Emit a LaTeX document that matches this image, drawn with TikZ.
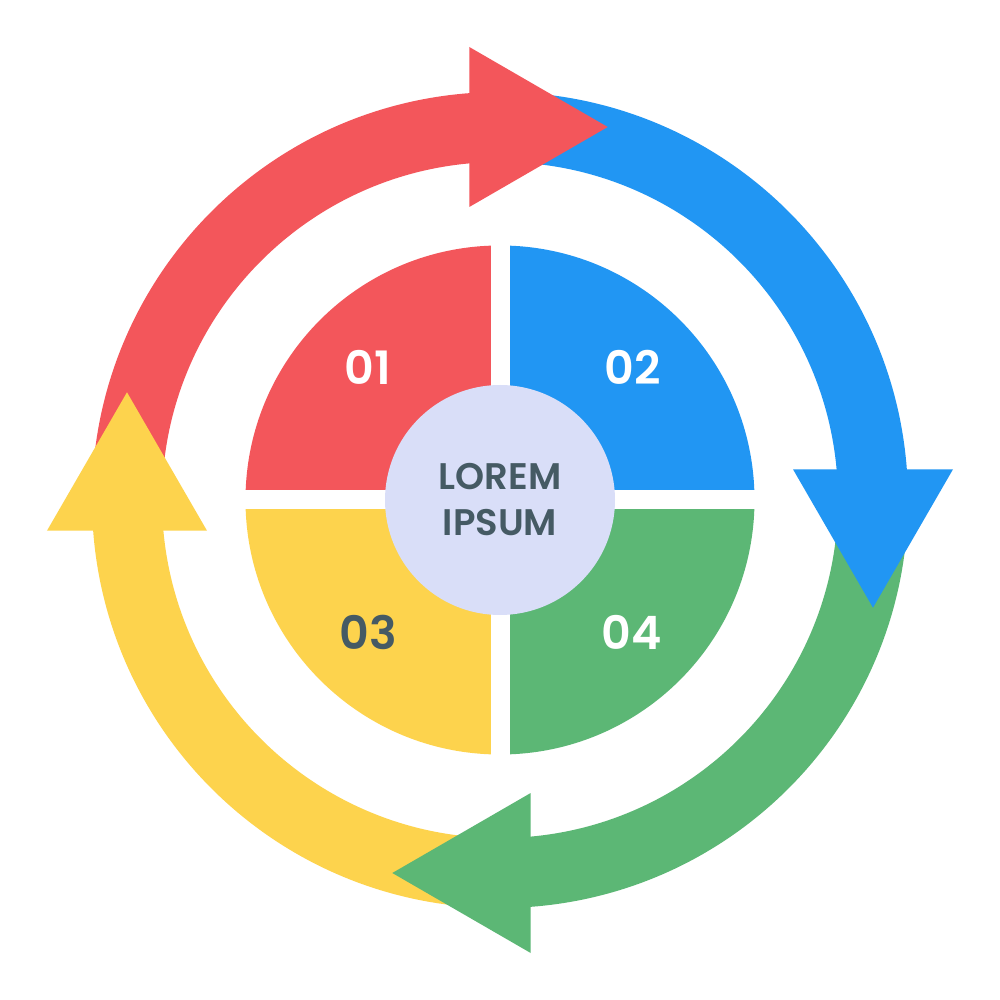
\documentclass[tikz,border=0pt]{standalone}
\usepackage{fontspec}
\setmainfont{Poppins}[BoldFont={Poppins SemiBold}]
\definecolor{cred}{HTML}{F3565B}
\definecolor{cblue}{HTML}{2196F3}
\definecolor{cgreen}{HTML}{5CB775}
\definecolor{cyellow}{HTML}{FDD34D}
\definecolor{ccenter}{HTML}{D9DEF8}
\definecolor{cdark}{HTML}{455A64}
\begin{document}
\begin{tikzpicture}[x=1pt,y=1pt,
  numtext/.style={inner sep=0pt,font=\fontsize{46}{46}\selectfont\bfseries},
  midtext/.style={inner sep=0pt,align=center,text=cdark,font=\fontsize{37}{45.8}\selectfont\bfseries}]
\fill[white] (-500pt,-500pt) rectangle (500pt,500pt);
\useasboundingbox (-500pt,-500pt) rectangle (500pt,500pt);
% ring bands
\foreach \k/\c in {0/cred,1/cblue,2/cgreen,3/cyellow}{
  \begin{scope}[rotate=-90*\k]
    \fill[\c] (178:408pt) arc[start angle=178,end angle=93,radius=408pt]
      -- (93:338pt) arc[start angle=93,end angle=178,radius=338pt] -- cycle;
  \end{scope}
}
% arrowheads
\foreach \k/\c in {0/cred,1/cblue,2/cgreen,3/cyellow}{
  \begin{scope}[rotate=-90*\k]
    \fill[\c] (-30.7pt,293pt) -- (107.7pt,373pt) -- (-30.7pt,453pt) -- cycle;
  \end{scope}
}
% pie quadrants
\fill[cred] (0,0) -- (180:254.5pt) arc[start angle=180,end angle=90,radius=254.5pt] -- cycle;
\fill[cblue] (0,0) -- (90:254.5pt) arc[start angle=90,end angle=0,radius=254.5pt] -- cycle;
\fill[cgreen] (0,0) -- (0:254.5pt) arc[start angle=0,end angle=-90,radius=254.5pt] -- cycle;
\fill[cyellow] (0,0) -- (-90:254.5pt) arc[start angle=-90,end angle=-180,radius=254.5pt] -- cycle;
\fill[white] (-260pt,-9.5pt) rectangle (260pt,9.5pt);
\fill[white] (-9.5pt,-260pt) rectangle (9.5pt,260pt);
\fill[ccenter] (0,0) circle[radius=115pt];
% labels
\node[numtext,text=white] (n01) at (-132.3pt,132.3pt) {01};
\node[numtext,text=white] (n02) at (132.5pt,132.3pt) {02};
\node[numtext,text=cdark] (n03) at (-132pt,-132.6pt) {03};
\node[numtext,text=white] (n04) at (132pt,-132.6pt) {04};
\node[midtext] (mid) at (0pt,0.1pt) {LOREM\\IPSUM};
\end{tikzpicture}
\end{document}
